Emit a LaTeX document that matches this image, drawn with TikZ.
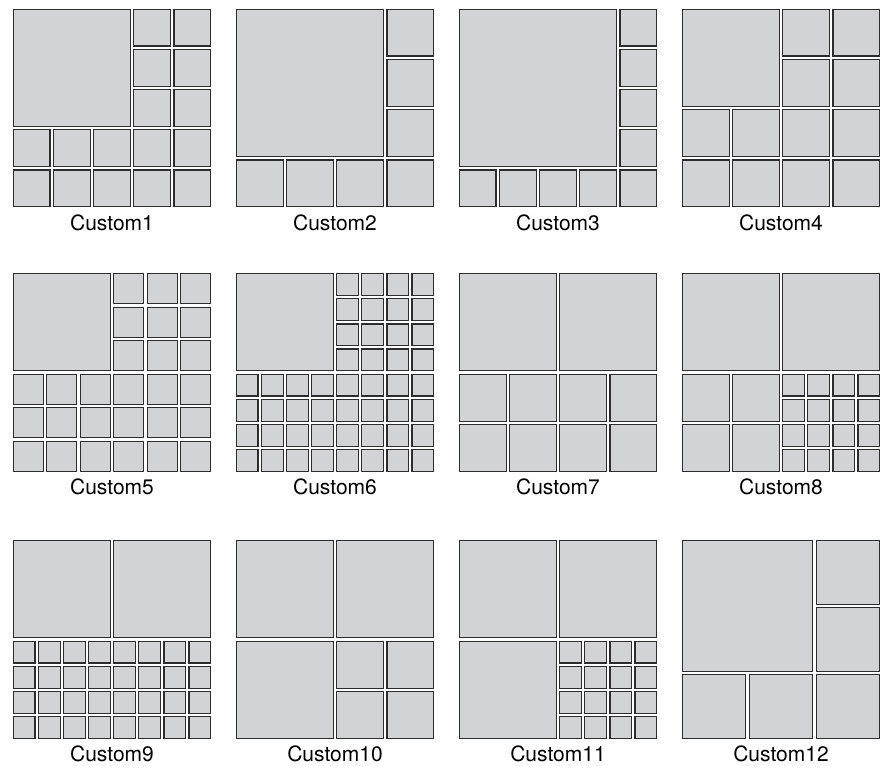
\documentclass[tikz,border=0pt]{standalone}
\usepackage{fontspec}
\setmainfont{TeX Gyre Heros}
\usepackage{tikz}
\usepackage{xcolor}

\definecolor{tilefill}{RGB}{210,211,213}
\definecolor{tileedge}{RGB}{45,45,45}

\tikzset{
  tile/.style={fill=tilefill,draw=tileedge,line width=1.2pt},
  lbl/.style={anchor=base,inner sep=0pt,font=\fontsize{21}{24}\selectfont}
}

% one tile: column, row, width, height (in grid units of the panel)
\newcommand{\tilebox}[4]{%
  \draw[tile] ({(#1)*\tsz+\gp},{(#2)*\tsz+\gp})
    rectangle ({((#1)+(#3))*\tsz-\gp},{((#2)+(#4))*\tsz-\gp});}
% block of equal tiles: column, row, number across, number down, size
\newcommand{\tilegrid}[5]{%
  \foreach \i in {1,...,#3}{\foreach \j in {1,...,#4}{%
    \tilebox{(#1)+(\i-1)*(#5)}{(#2)+(\j-1)*(#5)}{#5}{#5}}}}

\begin{document}
\begin{tikzpicture}[x=1pt,y=-1pt]
        \def\sz{201}
        \def\gp{1.65}
        \useasboundingbox (0,0) rectangle (890,765);

        % --- 1段目 ---

        % Custom1
        \begin{scope}[shift={(11.5,7.5)}]
          \def\tsz{40.2}
          \tilebox{0}{0}{3}{3}
          \tilegrid{3}{0}{2}{3}{1}
          \tilegrid{0}{3}{5}{2}{1}
          \node[lbl] (lbl1) at (100.5,222.5) {Custom1};
        \end{scope}

        % Custom2
        \begin{scope}[shift={(234.5,7.5)}]
          \def\tsz{50.25}
          \tilebox{0}{0}{3}{3}
          \tilegrid{3}{0}{1}{3}{1}
          \tilegrid{0}{3}{4}{1}{1}
          \node[lbl] (lbl2) at (100.5,222.5) {Custom2};
        \end{scope}

        % Custom3
        \begin{scope}[shift={(457.5,7.5)}]
          \def\tsz{40.2}
          \tilebox{0}{0}{4}{4}
          \tilegrid{4}{0}{1}{4}{1}
          \tilegrid{0}{4}{5}{1}{1}
          \node[lbl] (lbl3) at (100.5,222.5) {Custom3};
        \end{scope}

        % Custom4
        \begin{scope}[shift={(680.5,7.5)}]
          \def\tsz{50.25}
          \tilebox{0}{0}{2}{2}
          \tilegrid{2}{0}{2}{2}{1}
          \tilegrid{0}{2}{4}{2}{1}
          \node[lbl] (lbl4) at (100.5,222.5) {Custom4};
        \end{scope}

        % --- 2段目 ---

        % Custom5
        \begin{scope}[shift={(11.5,272)}]
          \def\tsz{33.5}
          \tilebox{0}{0}{3}{3}
          \tilegrid{3}{0}{3}{3}{1}
          \tilegrid{0}{3}{6}{3}{1}
          \node[lbl] (lbl5) at (100.5,222.5) {Custom5};
        \end{scope}

        % Custom6
        \begin{scope}[shift={(234.5,272)}]
          \def\tsz{25.125}
          \tilebox{0}{0}{4}{4}
          \tilegrid{4}{0}{4}{4}{1}
          \tilegrid{0}{4}{8}{4}{1}
          \node[lbl] (lbl6) at (100.5,222.5) {Custom6};
        \end{scope}

        % Custom7
        \begin{scope}[shift={(457.5,272)}]
          \def\tsz{50.25}
          \tilegrid{0}{0}{2}{1}{2}
          \tilegrid{0}{2}{4}{2}{1}
          \node[lbl] (lbl7) at (100.5,222.5) {Custom7};
        \end{scope}

        % Custom8
        \begin{scope}[shift={(680.5,272)}]
          \def\tsz{50.25}
          \tilegrid{0}{0}{2}{1}{2}
          \tilegrid{0}{2}{2}{2}{1}
          \tilegrid{2}{2}{4}{4}{0.5}
          \node[lbl] (lbl8) at (100.5,222.5) {Custom8};
        \end{scope}

        % --- 3段目 ---

        % Custom9
        \begin{scope}[shift={(11.5,539)}]
          \def\tsz{50.25}
          \tilegrid{0}{0}{2}{1}{2}
          \tilegrid{0}{2}{8}{4}{0.5}
          \node[lbl] (lbl9) at (100.5,222.5) {Custom9};
        \end{scope}

        % Custom10
        \begin{scope}[shift={(234.5,539)}]
          \def\tsz{50.25}
          \tilegrid{0}{0}{2}{1}{2}
          \tilebox{0}{2}{2}{2}
          \tilegrid{2}{2}{2}{2}{1}
          \node[lbl] (lbl10) at (100.5,222.5) {Custom10};
        \end{scope}

        % Custom11
        \begin{scope}[shift={(457.5,539)}]
          \def\tsz{50.25}
          \tilegrid{0}{0}{2}{1}{2}
          \tilebox{0}{2}{2}{2}
          \tilegrid{2}{2}{4}{4}{0.5}
          \node[lbl] (lbl11) at (100.5,222.5) {Custom11};
        \end{scope}

        % Custom12
        \begin{scope}[shift={(680.5,539)}]
          \def\tsz{67}
          \tilebox{0}{0}{2}{2}
          \tilegrid{2}{0}{1}{2}{1}
          \tilegrid{0}{2}{3}{1}{1}
          \node[lbl] (lbl12) at (100.5,222.5) {Custom12};
        \end{scope}
      \end{tikzpicture}
\end{document}
